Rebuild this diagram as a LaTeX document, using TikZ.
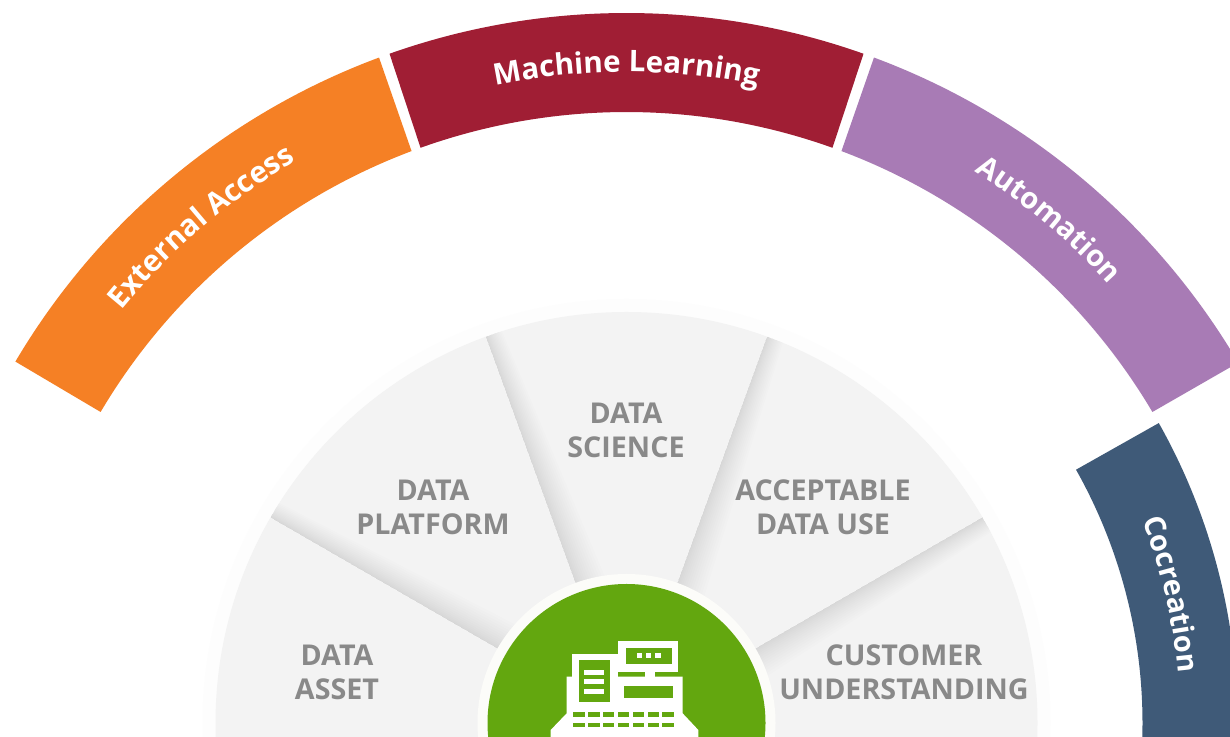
\documentclass[tikz,border=0pt]{standalone}
\usepackage{fontspec}
\setmainfont{Open Sans}
\usetikzlibrary{calc,decorations.text}
\definecolor{orangeband}{HTML}{F58025}
\definecolor{maroonband}{HTML}{A01E34}
\definecolor{purpleband}{HTML}{A87BB5}
\definecolor{blueband}{HTML}{3F5A78}
\definecolor{hubgreen}{HTML}{63A70F}
\definecolor{wheelgray}{HTML}{F3F3F3}
\definecolor{wheeltext}{HTML}{898989}
\definecolor{halo}{HTML}{FDFDFD}
\definecolor{ring}{HTML}{FCFCF9}
\tikzset{
  x=0.75pt,y=0.75pt,
  wedgetext/.style={text=wheeltext,font=\fontsize{21.5}{25.5}\selectfont\bfseries,align=center,inner sep=0pt},
  iconwhite/.style={fill=white,draw=none},
  icongreen/.style={fill=hubgreen,draw=none}
}
\newcommand{\band}[7]{% colour, inner radius, outer radius, inner start, outer start, outer end, inner end
  \fill[#1] ($(C)+(#4:#2)$) -- ($(C)+(#5:#3)$) arc[start angle=#5,end angle=#6,radius=#3]
     -- ($(C)+(#7:#2)$) arc[start angle=#7,end angle=#4,radius=#2] -- cycle;}
\newcommand{\divider}[1]{% soft shadow on the clockwise side of the line at angle #1
  \begin{scope}[shift={(C)},rotate=#1]
    \foreach \k in {1,...,14}{
      \fill[black,opacity=0.006] (140,0) -- (411,0) -- (411,{-17*(\k/14)^1.3}) -- (140,{-30*(\k/14)^1.3}) -- cycle;
    }
  \end{scope}}
\newcommand{\bandlabel}[5]{% radius, start, end, font size, text
  \path[decorate,decoration={text along path,text align=center,
     text={|\fontsize{#4}{26}\selectfont\bfseries\color{white}|#5}}]
     ($(C)+(#2:#1)$) arc[start angle=#2,end angle=#3,radius=#1];}
\begin{document}
\begin{tikzpicture}
\useasboundingbox (0,0) rectangle (1230,737);
\fill[white] (0,0) rectangle (1230,737);
\coordinate (C) at (626.5,14);
\begin{scope}
\clip (0,0) rectangle (1230,737);
\band{orangeband}{611}{710}{149.4}{149.4}{110.4}{110.6}
\band{maroonband}{611}{710}{109.7}{109.5}{70.5}{70.3}
\band{purpleband}{611}{710}{69.4}{69.6}{30.5}{30.6}
\band{blueband}{516}{611}{29.4}{29.4}{-5}{-5}
\fill[halo] (C) circle (424);
\fill[wheelgray] (C) circle (411);
\divider{30}
\divider{70}
\divider{110}
\divider{150}
\fill[ring] (C) circle (149);
\fill[hubgreen] (C) circle (139);
% cash register icon, in units of a third of a pixel
\begin{scope}[shift={(460,177)},x=0.25pt,y=-0.25pt]
  \fill[iconwhite] (475,243) rectangle (655,335);
  \fill[icongreen] (497,263) rectangle (637,313);
  \foreach \d in {530,558,586}{\fill[iconwhite] (\d,279) rectangle ++(16,15);}
  \fill[iconwhite] (555,335) rectangle (585,350);
  \fill[iconwhite] (337,283) rectangle (475,350);
  \fill[iconwhite] (320,350) -- (668,350) -- (668,460) -- (715,510) -- (715,540)
      -- (272,540) -- (272,510) -- (320,460) -- cycle;
  \fill[icongreen] (357,300) rectangle (450,425);
  \foreach \b in {330,358,387}{\fill[iconwhite] (372,\b) rectangle ++(60,15);}
  \fill[icongreen] (493,377) rectangle (640,415);
  \foreach \k in {0,...,6}{
    \fill[icongreen] ({340+\k*44.5},455) rectangle ++(34,15);
    \fill[icongreen] ({340+\k*44.5},488) rectangle ++(34,12);
  }
\end{scope}
\end{scope}
\bandlabel{652}{155.6}{105.6}{22.3}{External Access}
\bandlabel{651}{115}{65}{22.2}{Machine Learning}
\bandlabel{652}{75}{25}{22}{Automation}
\bandlabel{554}{35.3}{-8.7}{21.7}{Cocreation}
\node[wedgetext] (d1) at (337,65) {DATA\\ASSET};
\node[wedgetext] (d2) at (433,230) {DATA\\PLATFORM};
\node[wedgetext] (d3) at (626,307) {DATA\\SCIENCE};
\node[wedgetext] (d4) at (823,230) {ACCEPTABLE\\DATA USE};
\node[wedgetext] (d5) at (904,65) {CUSTOMER\\UNDERSTANDING};
\end{tikzpicture}
\end{document}
